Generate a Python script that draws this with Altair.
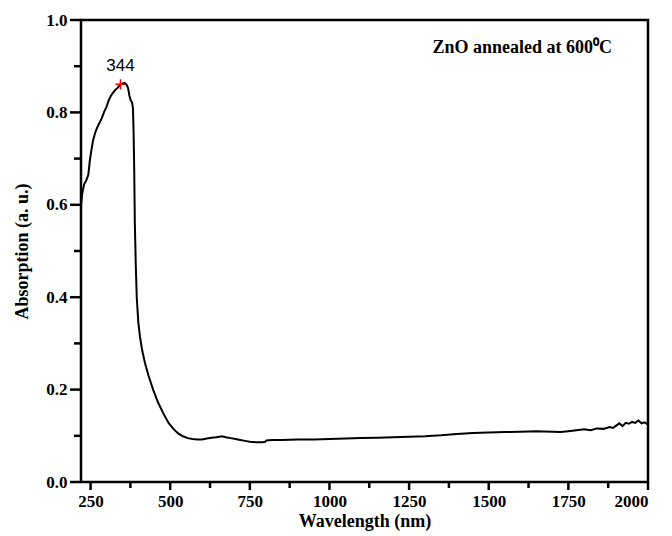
import altair as alt
import pandas as pd

wavelength = [220, 224, 230, 236, 243, 248, 253, 258, 264, 270, 277, 285, 292, 300, 307, 314, 321, 328, 335, 344,
              350, 357, 363, 368, 372, 376, 380, 383, 385, 387, 389, 392, 395, 400, 405, 412, 421, 432, 447, 462,
              478, 495, 510, 525, 540, 555, 570, 585, 600, 615, 630, 645, 662, 675, 690, 705, 720, 735, 750, 770,
              790, 798, 802, 820, 850, 900, 950, 1000, 1050, 1100, 1150, 1200, 1250, 1300, 1350, 1400, 1450, 1500,
              1550, 1600, 1650, 1700, 1725, 1750, 1775, 1800, 1820, 1840, 1860, 1880, 1890, 1900, 1910, 1920, 1930,
              1940, 1950, 1960, 1970, 1980, 1990, 2000]
absorption = [0.600, 0.625, 0.645, 0.652, 0.665, 0.697, 0.720, 0.740, 0.755, 0.766, 0.776, 0.787, 0.800, 0.812,
              0.826, 0.836, 0.843, 0.849, 0.853, 0.861, 0.862, 0.864, 0.860, 0.852, 0.836, 0.826, 0.822, 0.810,
              0.760, 0.680, 0.560, 0.470, 0.400, 0.345, 0.315, 0.285, 0.257, 0.230, 0.199, 0.172, 0.149, 0.128,
              0.115, 0.105, 0.099, 0.095, 0.093, 0.092, 0.092, 0.094, 0.096, 0.097, 0.099, 0.097, 0.095, 0.093,
              0.091, 0.089, 0.087, 0.086, 0.086, 0.087, 0.090, 0.091, 0.091, 0.092, 0.092, 0.093, 0.094, 0.095,
              0.096, 0.097, 0.098, 0.099, 0.101, 0.104, 0.106, 0.107, 0.108, 0.109, 0.110, 0.109, 0.108, 0.110,
              0.112, 0.114, 0.112, 0.116, 0.115, 0.119, 0.117, 0.122, 0.127, 0.121, 0.128, 0.126, 0.130, 0.128,
              0.133, 0.127, 0.129, 0.124]

peak_wl = [344]
peak_abs = [0.861]
peak_label = ["344"]

note_text = ["ZnO annealed at 600\u2070C"]
note_x = [1605]
note_y = [0.94]

x_major = [250, 500, 750, 1000, 1250, 1500, 1750, 2000]
x_minor = [375, 625, 875, 1125, 1375, 1625, 1875]
y_major = [0.0, 0.2, 0.4, 0.6, 0.8, 1.0]
y_minor = [0.1, 0.3, 0.5, 0.7, 0.9]

W, H = 567, 462

df = pd.DataFrame({"wl": wavelength, "abs": absorption})
peak = pd.DataFrame({"wl": peak_wl, "abs": peak_abs, "label": peak_label})
note = pd.DataFrame({"wl": note_x, "abs": note_y, "text": note_text})
xmaj = pd.DataFrame({"wl": x_major})
xmin = pd.DataFrame({"wl": x_minor})
ymaj = pd.DataFrame({"abs": y_major})
ymin = pd.DataFrame({"abs": y_minor})

xscale = alt.Scale(domain=[220, 2000], nice=False, zero=False)
yscale = alt.Scale(domain=[0, 1.0], nice=False)

SERIF = "Liberation Serif"

line = alt.Chart(df).mark_line(color="black", strokeWidth=2).encode(
    x=alt.X("wl:Q", scale=xscale, title="Wavelength (nm)",
            axis=alt.Axis(values=x_major, format="d", ticks=False, domain=False, labelPadding=11,
                          titlePadding=3,
                          labelFont=SERIF, labelFontSize=17, labelFontWeight="bold",
                          titleFont=SERIF, titleFontSize=18, titleFontWeight="bold",
                          grid=False, orient="bottom")),
    y=alt.Y("abs:Q", scale=yscale, title="Absorption (a. u.)",
            axis=alt.Axis(values=y_major, format=".1f", ticks=False, domain=False, labelPadding=14,
                          titlePadding=14,
                          labelFont=SERIF, labelFontSize=17, labelFontWeight="bold",
                          titleFont=SERIF, titleFontSize=18, titleFontWeight="bold",
                          grid=False, orient="left")),
)

TICKSTYLE = dict(color="black", filled=True, opacity=1, clip=False)

xmaj_ticks = alt.Chart(xmaj).mark_tick(orient="vertical", thickness=2.5, size=8, **TICKSTYLE).encode(
    x=alt.X("wl:Q", scale=xscale), y=alt.value(H + 4))
xmin_ticks = alt.Chart(xmin).mark_tick(orient="vertical", thickness=2.5, size=6, **TICKSTYLE).encode(
    x=alt.X("wl:Q", scale=xscale), y=alt.value(H + 3))
ymaj_ticks = alt.Chart(ymaj).mark_tick(orient="horizontal", thickness=2.5, size=11, **TICKSTYLE).encode(
    y=alt.Y("abs:Q", scale=yscale), x=alt.value(-5.5))
ymin_ticks = alt.Chart(ymin).mark_tick(orient="horizontal", thickness=2.5, size=7, **TICKSTYLE).encode(
    y=alt.Y("abs:Q", scale=yscale), x=alt.value(-3.5))

marker = alt.Chart(peak).mark_point(
    shape="M-1,0L1,0M0,-1L0,1", size=100, filled=False, color="red", strokeWidth=1.5, opacity=1
).encode(
    x=alt.X("wl:Q", scale=xscale),
    y=alt.Y("abs:Q", scale=yscale),
)

peak_text = alt.Chart(peak).mark_text(
    font="Liberation Sans", fontSize=17, color="black", dy=-13, baseline="alphabetic", align="center"
).encode(
    x=alt.X("wl:Q", scale=xscale),
    y=alt.Y("abs:Q", scale=yscale),
    text="label:N",
)

note_mark = alt.Chart(note).mark_text(
    font=SERIF, fontSize=18, fontWeight="bold", color="black", align="center", baseline="middle"
).encode(
    x=alt.X("wl:Q", scale=xscale),
    y=alt.Y("abs:Q", scale=yscale),
    text="text:N",
)

chart = alt.layer(line, xmaj_ticks, xmin_ticks, ymaj_ticks, ymin_ticks, marker, peak_text, note_mark).properties(
    width=W, height=H,
    autosize=alt.AutoSizeParams(type="none"),
    padding={"left": 73, "top": 12, "right": 16, "bottom": 52},
).configure_view(
    stroke="black", strokeWidth=2.5
).configure_axis(
    labelColor="black", titleColor="black"
)

chart.save("out.html", embed_options={"renderer": "svg", "actions": False})
